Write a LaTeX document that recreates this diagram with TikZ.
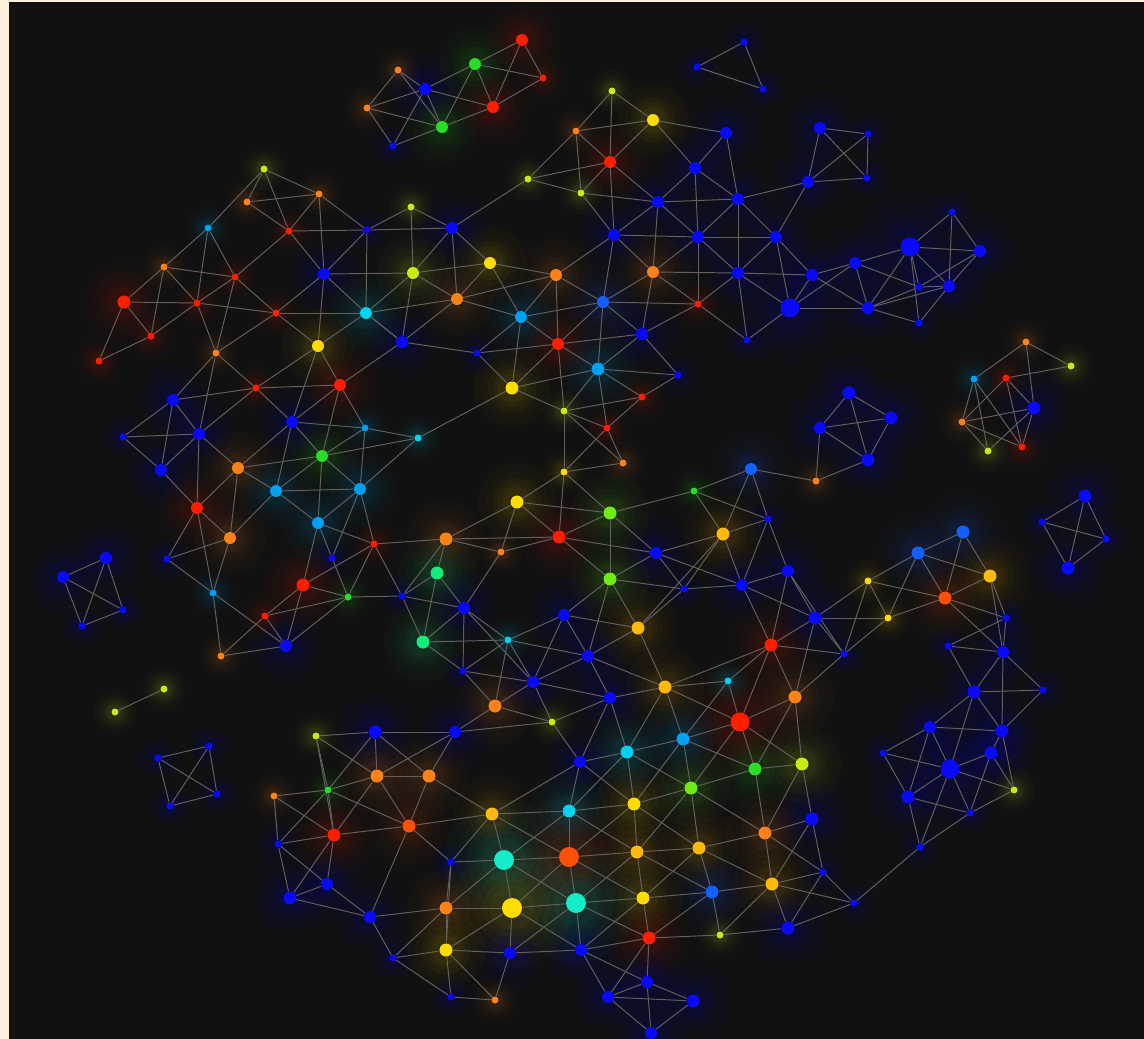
\documentclass[tikz,border=0pt]{standalone}
\pgfdeclarelayer{bgl}\pgfdeclarelayer{glow}\pgfdeclarelayer{edges}
\pgfsetlayers{bgl,glow,edges,main}
\definecolor{bgdark}{RGB}{17,17,17}
\definecolor{cream}{RGB}{254,240,220}
\definecolor{edgec}{RGB}{100,96,92}
\definecolor{nb}{RGB}{10,10,250}
\definecolor{nbb}{RGB}{20,95,255}
\definecolor{nr}{RGB}{255,30,0}
\definecolor{nor}{RGB}{255,80,10}
\definecolor{no}{RGB}{250,130,25}
\definecolor{ngold}{RGB}{255,185,10}
\definecolor{ny}{RGB}{255,220,0}
\definecolor{nyg}{RGB}{200,235,20}
\definecolor{nlime}{RGB}{110,235,20}
\definecolor{ng}{RGB}{40,220,40}
\definecolor{nsg}{RGB}{20,235,120}
\definecolor{nc}{RGB}{0,210,240}
\definecolor{ns}{RGB}{0,160,245}
\definecolor{nt}{RGB}{20,235,200}
\tikzset{nodedot/.style={circle,inner sep=0pt,draw=none},
  linkln/.style={draw=edgec,line width=0.55pt}}
\begin{document}
\begin{tikzpicture}[x=0.02cm,y=-0.02cm]
\begin{pgfonlayer}{bgl}
\fill[cream] (0,0) rectangle (1144,1039);
\fill[bgdark] (9,2) rectangle (1144,1039);
\end{pgfonlayer}
\useasboundingbox (0,0) rectangle (1144,1039);
\foreach \id/\x/\y/\cl/\rr in {
a1/367/108/no/3.5, a2/398/70/no/3.5, a3/425/89/nb/6, a4/393/146/nb/3.5, a5/442/127/ng/6, a6/475/64/ng/6, a7/522/40/nr/6, a8/543/78/nr/3.5, a9/493/107/nr/6,
t1/744/42/nb/3.5, t2/697/67/nb/3.5, t3/763/89/nb/3.5,
u1/612/91/nyg/3.5, u2/653/120/ny/6, u3/726/133/nb/6, u4/576/131/no/3.5, u5/610/162/nr/6, u6/528/179/nyg/3.5, u7/581/193/nyg/3.5, u8/695/168/nb/6, u9/658/202/nb/6, u10/738/199/nb/6, u11/614/235/nb/6, u12/698/237/nb/6, u13/776/237/nb/6, u14/452/228/nb/6, u15/411/207/nyg/3.5, u16/413/273/nyg/6, u17/490/263/ny/6, u18/457/299/no/6, u19/556/275/no/6, u20/653/272/no/6, u21/603/302/nbb/6, u22/738/273/nb/6, u23/698/304/nr/3.5, u24/521/317/ns/6, u25/558/344/nr/6, u26/642/334/nb/6, u27/402/342/nb/6, u28/477/353/nb/3.5, u29/747/340/nb/3.5,
v1/820/128/nb/6, v2/868/134/nb/3.5, v3/867/178/nb/3.5, v4/808/182/nb/6, v5/812/275/nb/6, v6/855/263/nb/6, v7/910/247/nb/9.5, v8/952/212/nb/3.5, v9/980/251/nb/6, v10/790/308/nb/9.5, v11/868/308/nb/6, v12/919/287/nb/3.5, v13/949/286/nb/6, v14/919/323/nb/3.5,
l1/264/169/nyg/3.5, l2/319/194/no/3.5, l3/247/202/no/3.5, l4/208/228/ns/3.5, l5/289/231/nr/3.5, l6/367/230/nb/3.5, l7/164/267/no/3.5, l8/235/277/nr/3.5, l9/324/274/nb/6, l10/124/302/nr/6.5, l11/197/303/nr/3.5, l12/276/313/nr/3.5, l13/366/313/nc/6, l14/151/336/nr/3.5, l15/216/353/no/3.5, l16/318/346/ny/6, l17/99/361/nr/3.5,
m1/256/388/nr/3.5, m2/340/385/nr/6, m3/173/400/nb/6, m4/292/422/nb/6, m5/365/428/ns/3.5, m6/123/437/nb/3.5, m7/199/434/nb/6, m8/322/456/ng/6, m9/238/468/no/6, m10/161/470/nb/6, m11/276/491/ns/6, m12/360/489/ns/6, m13/197/508/nr/6, m14/318/523/ns/6, m15/230/538/no/6, m16/374/544/nr/3.5, m17/167/559/nb/3.5, m18/332/558/nb/3.5, m19/303/585/nr/6.5, m20/213/593/ns/3.5, m21/348/597/ng/3.5, m22/265/616/nr/3.5, m23/286/646/nb/6, m24/221/656/no/3.5,
i1/106/558/nb/6, i2/63/577/nb/6, i3/123/610/nb/3.5, i4/82/626/nb/3.5, p1/164/689/nyg/3.5, p2/115/712/nyg/3.5, q1/158/758/nb/3.5, q2/209/746/nb/3.5, q3/217/794/nb/3.5, q4/170/806/nb/3.5,
c1/598/369/ns/6.5, c2/678/375/nb/3.5, c3/512/388/ny/6.5, c4/642/397/nr/3.5, c5/564/411/nyg/3.5, c6/607/428/nr/3.5, c7/418/438/nc/3.5, c8/623/463/no/3.5, c9/564/472/ny/3.5, c10/751/469/nbb/6, c11/694/491/ng/3.5, c12/517/502/ny/6.5, c13/610/513/nlime/6.5, c14/768/519/nb/3.5, c15/446/539/no/6.5, c16/559/537/nr/6.5, c17/501/552/no/3.5, c18/656/553/nb/6, c19/723/534/ngold/6.5, c20/437/573/nsg/6.5, c21/610/579/nlime/6.5, c22/684/589/nb/3.5, c23/742/585/nb/6, c24/402/596/nb/3.5, c25/464/608/nb/6, c26/564/615/nb/6, c27/638/628/ngold/6.5, c28/771/645/nr/6.5, c29/423/642/nsg/6.5, c30/508/640/nc/3.5, c31/588/656/nb/6, c32/463/671/nb/3.5, c33/533/682/nb/6, c34/665/687/ngold/6.5, c35/728/681/nc/3.5, c36/610/698/nb/6, c37/495/706/no/6.5, c38/552/722/nyg/3.5, c39/740/722/nr/9.5, c40/455/732/nb/6, c41/683/739/ns/6.5, c42/627/752/nc/6.5, c43/580/762/nb/6, c44/755/769/ng/6.5, c45/429/776/no/6.5, c46/691/788/nlime/6.5, c47/634/804/ny/6.5, c48/569/811/nc/6.5, c49/492/814/ngold/6.5, c50/409/826/nor/6.5, c51/765/833/no/6.5, c52/699/848/ngold/6.5, c53/569/857/nor/10, c54/637/852/ngold/6.5, c55/504/860/nt/10, c56/451/862/nb/3.5, c57/712/892/nbb/6.5, c58/772/884/ngold/6.5, c59/643/898/ny/6.5, c60/576/903/nt/10, c61/512/908/ny/10, c62/446/908/no/6.5, c63/649/938/nr/6.5, c64/720/935/nyg/3.5, c65/446/950/ny/6.5, c66/510/953/nb/6, c67/581/950/nb/6, c68/393/958/nb/3.5, c69/647/982/nb/6, c70/608/997/nb/6, c71/693/1001/nb/6.5, c72/451/997/nb/3.5, c73/495/1000/no/3.5, c74/651/1033/nb/6,
r1/1026/342/no/3.5, r2/1071/366/nyg/3.5, r3/974/379/ns/3.5, r4/1006/378/nr/3.5, r5/1034/408/nb/6.5, r6/962/422/no/3.5, r7/988/451/nyg/3.5, r8/1022/447/nr/3.5, r9/849/393/nb/6.5, r10/820/428/nb/6, r11/891/418/nb/6.5, r12/868/460/nb/6.5, r13/816/481/no/3.5, r14/1085/496/nb/6.5, r15/1042/522/nb/3.5, r16/1106/539/nb/3.5, r17/1068/568/nb/6.5, r18/963/532/nbb/6.5, r19/918/553/nbb/6.5, r20/990/576/ngold/6.5, r21/868/581/ny/3.5, r22/945/598/nor/6.5, r23/788/571/nb/6, r24/888/618/ny/3.5, r25/815/618/nb/6.5, r26/1006/618/nb/3.5, r27/948/646/nb/3.5, r28/1003/652/nb/6, r29/844/654/nb/3.5, r30/795/697/no/6.5, r31/974/692/nb/6.5, r32/1043/690/nb/3.5,
s1/930/727/nb/6, s2/1002/731/nb/6.5, s3/883/753/nb/3.5, s4/991/753/nb/6.5, s5/950/769/nb/9.5, s6/802/764/nyg/6.5, s7/1014/790/nyg/3.5, s8/908/797/nb/6.5, s9/970/813/nb/3.5, s10/920/847/nb/3.5, s11/812/819/nb/6.5, s12/823/872/nb/3.5, s13/854/903/nb/3.5, s14/788/928/nb/6.5,
w1/316/736/nyg/3.5, w2/375/732/nb/6.5, w3/377/776/no/6.5, w4/328/790/ng/3.5, w5/274/796/no/3.5, w6/334/835/nr/6.5, w7/278/844/nb/3.5, w8/327/884/nb/6, w9/290/898/nb/6.5, w10/370/917/nb/6}{
  \node[nodedot,fill=\cl,minimum size={\rr*0.04cm}] (\id) at (\x,\y) {};
  \begin{pgfonlayer}{glow}
    \fill[\cl,opacity=0.025] (\x,\y) circle[radius={\rr*0.12cm}];
    \fill[\cl,opacity=0.025] (\x,\y) circle[radius={\rr*0.095cm}];
    \fill[\cl,opacity=0.03] (\x,\y) circle[radius={\rr*0.075cm}];
    \fill[\cl,opacity=0.035] (\x,\y) circle[radius={\rr*0.058cm}];
    \fill[\cl,opacity=0.045] (\x,\y) circle[radius={\rr*0.045cm}];
  \end{pgfonlayer}
}
\begin{pgfonlayer}{edges}
\foreach \ea/\eb in {
a1/a2,a1/a3,a1/a5,a1/a4,a4/a3,a4/a5,a2/a3,a2/a5,a3/a6,a3/a5,a3/a9,a6/a5,a6/a9,a6/a8,a6/a7,a7/a8,a7/a9,a9/a8,a9/a5,
t1/t2,t1/t3,t2/t3,
u1/u4,u1/u2,u1/u5,u5/u11,u4/u2,u4/u5,u4/u6,u4/u7,u2/u5,u2/u3,u2/u8,u6/u5,u6/u7,u6/u14,u7/u5,u7/u9,u7/u11,u5/u9,u3/u8,u3/u10,u8/u9,u8/u10,u8/u12,u9/u10,u9/u11,u9/u12,u9/u20,u10/u12,u10/u13,u10/u22,u10/v4,u11/u12,u11/u19,u11/u21,u11/u20,u12/u20,u12/u22,u12/u13,u12/u23,u13/u22,u13/v5,u20/u21,u20/u22,u20/u23,u20/u26,u22/u23,u22/u29,u19/u21,u19/u24,u19/u25,u19/u17,u19/u18,u21/u24,u21/u25,u21/u26,u21/u23,u21/c1,u23/u26,u23/u29,u26/u25,u26/c1,u26/c2,u15/u14,u15/u16,u15/l6,u14/u16,u14/u18,u14/u17,u16/u17,u16/u18,u16/l13,u16/u27,u16/l9,u17/u18,u17/u24,u18/u24,u18/u27,u18/l13,u24/u25,u24/u28,u24/c3,u27/u28,u27/l13,u27/m2,u28/u25,u28/c3,
v1/v2,v1/v3,v1/v4,v2/v3,v2/v4,v3/v4,v4/u13,u13/v10,v5/v6,v5/v10,v5/v11,v5/u22,v6/v7,v6/v11,v6/v10,v6/v12,v7/v8,v7/v9,v7/v11,v7/v12,v7/v14,v7/v13,v8/v9,v8/v13,v9/v13,v9/v12,v12/v13,v11/v12,v11/v14,v11/v13,v13/v14,v10/v11,v10/u29,v10/u22,
l1/l3,l1/l4,l1/l5,l1/l2,l3/l2,l3/l5,l2/l5,l2/l9,l2/l6,l4/l7,l4/l11,l4/l8,l5/l6,l5/l8,l5/l9,l6/l9,l6/u14,l6/l13,l7/l10,l7/l8,l7/l14,l7/l11,l8/l11,l8/l15,l8/l12,l10/l11,l10/l14,l10/l17,l11/l14,l11/l15,l11/l12,l9/l12,l9/l13,l9/l16,l12/l13,l12/l16,l12/l15,l13/l16,l13/u27,l14/l17,l16/m1,l16/m2,l16/m4,l15/m1,l15/m3,l15/m7,
m1/m3,m1/m2,m1/m4,m1/m7,m2/m4,m2/m5,m2/m8,m3/m6,m3/m7,m3/m10,m4/m5,m4/m8,m4/m9,m4/m11,m5/c7,m5/m8,m5/m12,m6/m7,m6/m10,m7/m10,m7/m9,m7/m13,m8/m9,m8/m11,m8/m12,m8/m14,m8/c7,m9/m11,m9/m13,m9/m15,m10/m13,m11/m12,m11/m14,m11/m15,m12/m14,m12/m16,m12/m18,m12/c7,m13/m15,m13/m17,m13/m20,m14/m16,m14/m18,m14/m19,m15/m17,m15/m20,m16/m19,m16/m21,m16/c24,m16/c15,m17/m20,m18/m21,m19/m21,m19/m22,m19/m23,m20/m23,m20/m24,m21/m22,m21/m23,m21/c24,m22/m24,m22/m23,m24/m23,
i1/i2,i1/i3,i1/i4,i2/i3,i2/i4,i4/i3,p1/p2,q1/q2,q1/q3,q1/q4,q2/q3,q2/q4,q3/q4,
c1/c2,c1/c4,c1/c5,c1/c6,c1/c3,u25/c1,u25/c5,u25/c3,c2/c4,c3/c5,c3/c7,c4/c5,c4/c6,c5/c6,c5/c8,c5/c9,c6/c8,c6/c9,c9/c8,c9/c12,c9/c13,c9/c16,c12/c13,c12/c16,c12/c15,c12/c17,c13/c16,c13/c21,c13/c18,c13/c11,c11/c10,c11/c19,c11/c14,c10/c14,c10/c19,c10/r13,c16/c15,c16/c17,c16/c18,c16/c21,c15/c17,c15/c20,c15/c24,c17/c25,c18/c21,c18/c19,c18/c22,c18/c23,c19/c14,c19/c22,c19/c23,c19/c27,c14/c23,c14/r23,c20/c25,c20/c24,c20/c29,c21/c26,c21/c31,c21/c27,c21/c22,c22/c23,c22/c27,c23/r23,c23/c28,c23/r25,c24/c25,c24/c29,c25/c29,c25/c30,c25/c32,c25/c33,c26/c30,c26/c31,c26/c27,c26/c33,c27/c31,c27/c34,c29/c30,c29/c32,c30/c31,c30/c32,c30/c33,c30/c37,c31/c34,c31/c33,c31/c36,c32/c33,c32/c37,c33/c36,c33/c37,c33/c38,c34/c35,c34/c36,c34/c28,c34/c39,c35/c28,c37/c40,c37/c38,c36/c38,c36/c43,c36/c42,c38/c40,c38/c43,c34/c42,c34/c41,c35/c41,c35/c39,c39/c41,c39/c46,c39/c44,c39/c28,c39/s6,c39/r30,c40/c45,c40/w3,c40/w2,c41/c42,c41/c46,c41/c47,c41/c44,c42/c43,c42/c47,c42/c48,c42/c46,c43/c48,c43/c49,c43/c47,c44/c46,c44/c51,c45/w3,c45/c49,c45/c50,c46/c47,c46/c52,c46/c54,c46/c51,c47/c48,c47/c54,c47/c53,c47/c52,c48/c49,c48/c53,c48/c55,c48/c54,c49/c50,c49/c55,c49/c53,c49/c56,c50/c56,c50/w6,c50/w3,c50/w10,c52/c54,c52/c51,c52/c57,c52/c58,c52/c59,c54/c53,c54/c59,c54/c57,c54/c60,c53/c55,c53/c60,c53/c61,c53/c59,c55/c56,c55/c61,c55/c62,c55/c60,c56/c62,c56/c65,c57/c59,c57/c58,c57/c64,c57/c63,c59/c60,c59/c63,c59/c67,c60/c61,c60/c67,c60/c66,c60/c63,c61/c62,c61/c66,c61/c65,c61/c67,c62/c65,c62/c68,c62/w10,c63/c67,c63/c64,c63/c69,c63/c70,c64/s14,c64/c58,c65/c66,c65/c68,c65/c72,c65/c73,c66/c67,c66/c73,c67/c70,c67/c69,c69/c70,c69/c71,c69/c74,c70/c74,c70/c71,c71/c74,c72/c73,c68/c72,
r1/r2,r1/r3,r1/r5,r2/r4,r3/r6,r3/r7,r3/r8,r4/r5,r4/r6,r4/r8,r5/r6,r5/r8,r5/r7,r6/r7,r6/r8,r9/r10,r9/r11,r9/r12,r10/r11,r10/r12,r10/r13,r11/r12,r12/r13,r14/r15,r14/r16,r14/r17,r15/r16,r15/r17,r16/r17,r18/r19,r18/r20,r18/r22,r19/r21,r19/r22,r19/r20,r19/r24,r20/r22,r20/r26,r20/r28,r21/r22,r21/r24,r21/r25,r21/r29,r22/r24,r22/r26,r22/r28,r24/r25,r24/r29,r23/r25,r23/c28,r23/r29,r25/r29,r25/c28,r25/r30,c28/r30,c28/r29,r26/r27,r26/r28,r27/r28,r27/r31,r28/r31,r28/r32,r28/s2,r29/r30,r31/r32,r31/s1,r31/s2,r31/s5,r32/s2,r30/s6,r30/c44,
s1/s2,s1/s3,s1/s5,s1/s8,s2/s4,s2/s7,s3/s5,s3/s8,s4/s5,s4/s7,s4/s9,s5/s8,s5/s10,s5/s9,s5/s7,s8/s9,s8/s10,s9/s7,s9/s10,s10/s13,s6/c44,s6/s11,s6/c51,s11/c51,s11/s12,s11/c58,c51/c58,c51/s12,s12/c58,s12/s13,s12/s14,c58/s14,c58/s13,s14/s13,
w1/w2,w1/w3,w1/w4,w1/w6,w2/w3,w2/w4,w2/c45,w3/w4,w3/w6,w4/w5,w4/w6,w4/w7,w4/c50,w5/w6,w5/w7,w6/w7,w6/w8,w6/w9,w7/w9,w7/w8,w8/w9,w8/w10,w9/w10,w10/c68}
  \draw[linkln] (\ea) -- (\eb);
\end{pgfonlayer}
\end{tikzpicture}
\end{document}
